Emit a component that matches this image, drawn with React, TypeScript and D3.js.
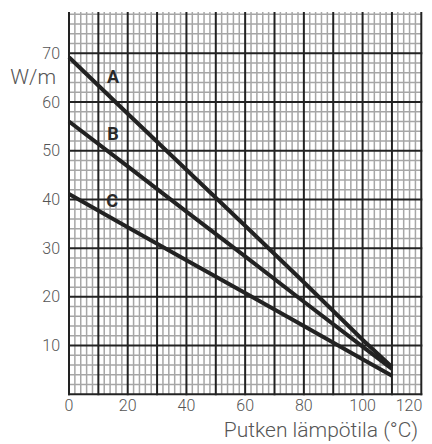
import React from "react";
import * as d3 from "d3";

const xValues = [0, 20, 40, 60, 80, 100, 110];
const seriesA = [69.2, 57.6, 46.1, 34.6, 23.0, 11.2, 5.6];
const seriesB = [56.0, 46.8, 37.5, 28.3, 19.0, 9.8, 5.2];
const seriesC = [41.1, 34.3, 27.5, 20.8, 14.0, 7.2, 3.8];
const seriesNames = ["A", "B", "C"];
const labelX = [15, 15, 14.7];
const labelY = [65.3, 53.6, 39.7];
const xTicks = [0, 20, 40, 60, 80, 100, 120];
const yTicks = [10, 20, 30, 40, 50, 60, 70];
const yLabel = "W/m";
const xLabel = "Putken lämpötila (°C)";

const W = 432;
const H = 444;

export default function App() {
  const x = d3.scaleLinear().domain([0, 120]).range([69, 421.3]);
  const y = d3.scaleLinear().domain([0, 70]).range([394.3, 53.3]);
  const yTop = 12;
  const yMaxVal = y.invert(yTop);

  const minorX = d3.range(0, 121, 2).filter((v) => v % 10 !== 0);
  const majorX = d3.range(0, 121, 10);
  const minorY = d3.range(0, yMaxVal, 2).filter((v) => v % 10 !== 0);
  const majorY = d3.range(0, yMaxVal, 10);

  const series = [seriesA, seriesB, seriesC];
  const line = d3
    .line<[number, number]>()
    .x((d) => x(d[0]))
    .y((d) => y(d[1]));

  const font = "Roboto, 'DejaVu Sans', sans-serif";

  return (
    <svg
      width={W}
      height={H}
      style={{ position: "absolute", left: 0, top: 0, background: "#fff" }}
    >
      <g>
        {minorX.map((v) => (
          <line
            key={"mx" + v}
            x1={x(v)}
            x2={x(v)}
            y1={yTop}
            y2={y(0)}
            stroke="#a6a6a6"
            strokeWidth={1.5}
          />
        ))}
        {minorY.map((v) => (
          <line
            key={"my" + v}
            x1={x(0)}
            x2={x(120)}
            y1={y(v)}
            y2={y(v)}
            stroke="#a6a6a6"
            strokeWidth={1.5}
          />
        ))}
        {majorX.map((v) => (
          <line
            key={"MX" + v}
            x1={x(v)}
            x2={x(v)}
            y1={yTop}
            y2={y(0) + 1}
            stroke="#222"
            strokeWidth={2}
          />
        ))}
        {majorY.map((v) => (
          <line
            key={"MY" + v}
            x1={x(0) - 1}
            x2={x(120) + 1}
            y1={y(v)}
            y2={y(v)}
            stroke="#222"
            strokeWidth={2}
          />
        ))}
      </g>
      <g>
        {series.map((s, i) => (
          <path
            key={"s" + i}
            d={line(xValues.map((xv, j) => [xv, s[j]] as [number, number])) || ""}
            fill="none"
            stroke="#222"
            strokeWidth={4}
          />
        ))}
        {seriesNames.map((n, i) => (
          <text
            key={"l" + n}
            x={x(labelX[i])}
            y={y(labelY[i])}
            textAnchor="middle"
            dominantBaseline="central"
            fontFamily={font}
            fontWeight={700}
            fontSize={18}
            fill="#2a2a2a"
          >
            {n}
          </text>
        ))}
      </g>
      <g fontFamily={font} fontWeight={300} fill="#555">
        {yTicks.map((v) => (
          <text
            key={"yt" + v}
            x={60}
            y={y(v)}
            textAnchor="end"
            dominantBaseline="central"
            fontSize={16}
          >
            {v}
          </text>
        ))}
        {xTicks.map((v, i) => {
          const last = i === xTicks.length - 1;
          return (
            <text
              key={"xt" + v}
              x={last ? x(v) + 1 : x(v)}
              y={411}
              textAnchor={last ? "end" : "middle"}
              fontSize={16}
            >
              {v}
            </text>
          );
        })}
        <text x={56} y={84} textAnchor="end" fontSize={21}>
          {yLabel}
        </text>
        <text x={418} y={437} textAnchor="end" fontSize={21}>
          {xLabel}
        </text>
      </g>
    </svg>
  );
}
